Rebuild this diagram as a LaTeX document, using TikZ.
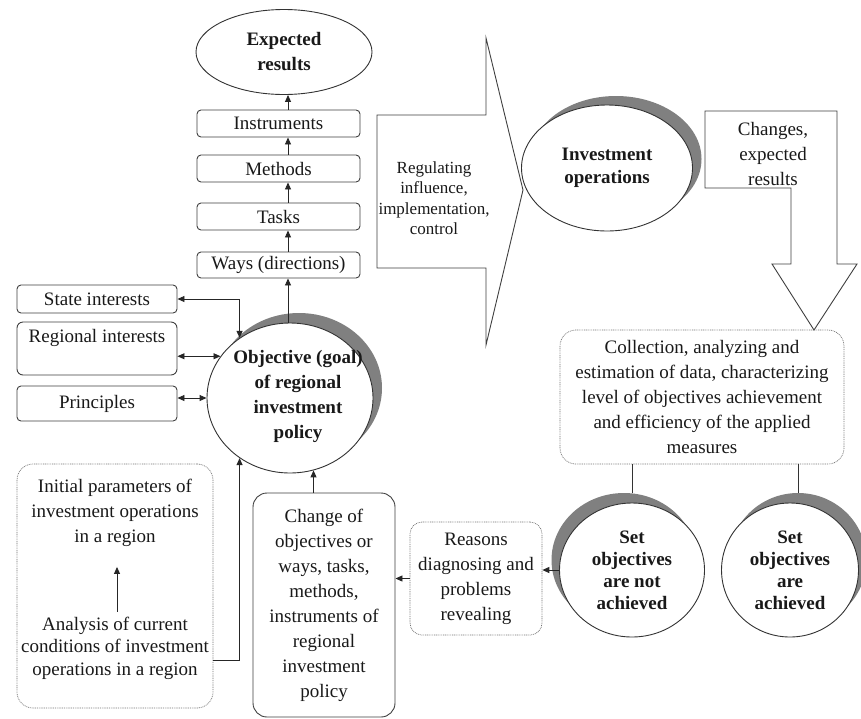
\documentclass[tikz,border=0pt]{standalone}
\usepackage{fontspec}
\setmainfont{Liberation Serif}
\usetikzlibrary{arrows.meta,shapes.geometric,calc}
\begin{document}
\begin{tikzpicture}[x=1pt,y=-1pt,
  every node/.style={font=\fontsize{19}{25}\selectfont, text=black!90, align=center, inner sep=0pt},
  box/.style={draw=black!75, line width=0.9pt, rounded corners=4pt, fill=white},
  ell/.style={ellipse, draw=black!80, line width=0.9pt, fill=white, font=\fontsize{19}{25}\selectfont\bfseries},
  etxt/.style={font=\fontsize{19}{25}\selectfont\bfseries},
  shad/.style={ellipse, fill=black!50, draw=none},
  dbox/.style={draw=black!55, line width=0.7pt, dash pattern=on 0.9pt off 0.9pt, rounded corners=16pt, fill=white},
  arr/.style={line width=0.9pt, draw=black!85, -{Triangle[length=7pt,width=6pt]}},
  darr/.style={line width=0.9pt, draw=black!85, {Triangle[length=7pt,width=6pt]}-{Triangle[length=7pt,width=6pt]}},
  conn/.style={line width=0.9pt, draw=black!80},
  blockarrow/.style={draw=black!75, line width=0.9pt, line join=miter}
]
\useasboundingbox (0,0) rectangle (861,718);
\fill[white] (0,0) rectangle (861,718);

% ---- top column
\node[ell, minimum width=176, minimum height=85] (exp) at (284,52) {Expected\\results};
\node[box, minimum width=163, minimum height=27] (instr) at (278.5,123.5) {Instruments};
\node[box, minimum width=163, minimum height=27] (meth) at (278.5,168.5) {Methods};
\node[box, minimum width=163, minimum height=27] (tasks) at (278.5,216.5) {Tasks};
\node[box, minimum width=163, minimum height=26] (ways) at (278.5,265) {Ways (directions)};
\coordinate (ax) at (288,0);

% ---- objective
\node[shad, minimum width=166, minimum height=150] (objS) at (299,388) {};
\node[ell, minimum width=166, minimum height=150,
      label={[etxt, xshift=8pt, yshift=2pt]center:{Objective (goal)\\of regional\\investment\\policy}}] (obj) at (290,398) {};

\draw[arr] (ways.north -| ax) -- (tasks.south -| ax);
\draw[arr] (tasks.north -| ax) -- (meth.south -| ax);
\draw[arr] (meth.north -| ax) -- (instr.south -| ax);
\draw[arr] (instr.north -| ax) -- (exp.south -| ax);
\draw[arr] (obj.north -| ax) -- (ways.south -| ax);

% ---- left boxes
\node[box, minimum width=160, minimum height=28] (state) at (97,299) {State interests};
\node[box, minimum width=160, minimum height=53, rounded corners=6pt] (regi) at (97,348.5) {Regional interests\\\mbox{}};
\node[box, minimum width=160, minimum height=35] (princ) at (97,403.5) {Principles};
\draw[darr] (state.east) -| (obj.130);
\draw[darr] (regi.east |- obj.149) -- (obj.149);
\draw[darr] (princ.east |- obj.west) -- (obj.west);

% ---- initial parameters
\node[dbox, minimum width=196, minimum height=244] (init) at (115,586) {};
\node (initA) at (115,513) {Initial parameters of\\investment operations\\in a region};
\node[font=\fontsize{19}{22.5}\selectfont] (initB) at (115,648) {Analysis of current\\conditions of investment\\operations in a region};
\draw[arr] ($(initB.north)+(2,-5)$) -- ($(initA.south)+(2,20)$);
\coordinate (y660) at (0,660);
\draw[arr] (init.east |- y660) -| (obj.230);

% ---- change box
\node[box, rounded corners=14pt, minimum width=142, minimum height=224] (chg) at (324,605)
  {Change of\\objectives or\\ways, tasks,\\methods,\\instruments of\\regional\\investment\\policy};
\draw[arr] (chg.north -| obj.288) -- (obj.288);

% ---- reasons
\node[dbox, rounded corners=12pt, minimum width=132, minimum height=113] (rsn) at (476,578.5)
  {Reasons\\diagnosing and\\problems\\revealing};
\draw[arr] (rsn.west) -- (rsn.west -| chg.east);

% ---- outcome ellipses
\node[shad, minimum width=145, minimum height=134] (naS) at (624,560) {};
\node[ell, minimum width=145, minimum height=134, font=\fontsize{19}{22}\selectfont\bfseries] (na) at (632,570)
  {Set\\objectives\\are not\\achieved};
\node[shad, minimum width=137, minimum height=134] (acS) at (798,560) {};
\node[ell, minimum width=137, minimum height=134, font=\fontsize{19}{22}\selectfont\bfseries] (ac) at (790,570)
  {Set\\objectives\\are\\achieved};
\draw[arr] (na.west) -- (na.west -| rsn.east);

% ---- collection
\node[dbox, minimum width=284, minimum height=134] (coll) at (702,397)
  {Collection, analyzing and\\estimation of data, characterizing\\level of objectives achievement\\and efficiency of the applied\\measures};
\draw[conn] (coll.south -| na.north) -- (na.north |- naS.north);
\draw[conn] (coll.south -| acS.north) -- (acS.north);

% ---- investment operations
\node[shad, minimum width=171, minimum height=126] (invS) at (616,159) {};
\node[ell, minimum width=171, minimum height=126, font=\fontsize{19}{23}\selectfont\bfseries] (inv) at (607,168)
  {Investment\\operations};

% ---- regulating block arrow
\draw[blockarrow] (377,115) -- (486,115) -- (486,38) -- (523,190) -- (486,345) -- (486,268) -- (377,268) -- cycle;
\node[font=\fontsize{17}{20.5}\selectfont] (regtxt) at (434,198) {Regulating\\influence,\\implementation,\\control};

% ---- changes block arrow
\draw[blockarrow] (705,111) -- (837,111) -- (837,264) -- (857,264) -- (814,330) -- (772,264) -- (791,264) -- (791,188) -- (705,188) -- cycle;
\node (chtxt) at (773,154) {Changes,\\expected\\results};
\end{tikzpicture}
\end{document}
